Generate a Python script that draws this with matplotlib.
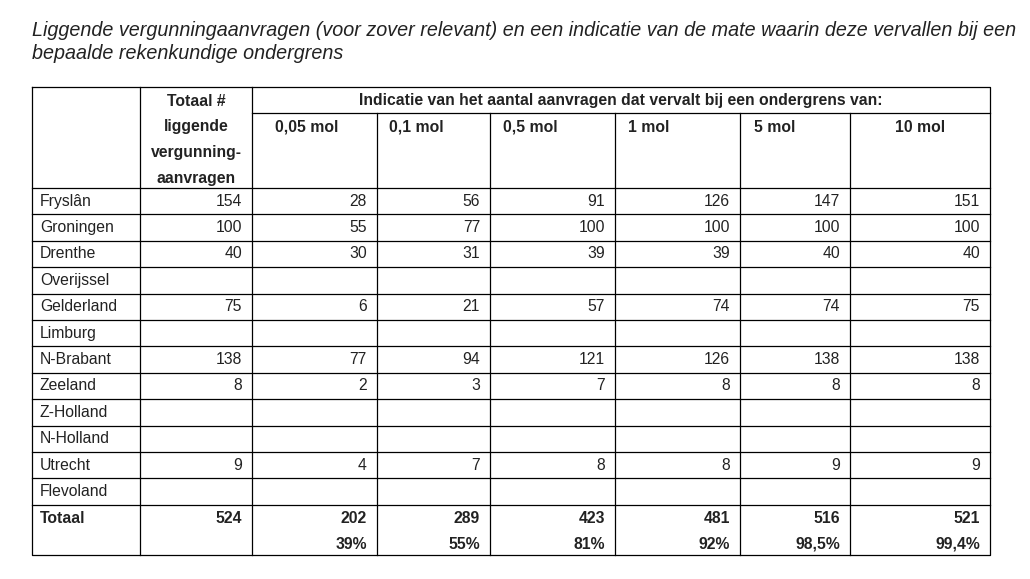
import matplotlib.pyplot as plt

provinces = ["Fryslân", "Groningen", "Drenthe", "Overijssel", "Gelderland", "Limburg",
             "N-Brabant", "Zeeland", "Z-Holland", "N-Holland", "Utrecht", "Flevoland"]
thresholds = ["0,05 mol", "0,1 mol", "0,5 mol", "1 mol", "5 mol", "10 mol"]
totals = [154, 100, 40, None, 75, None, 138, 8, None, None, 9, None]
per_threshold = [
    [28, 56, 91, 126, 147, 151],
    [55, 77, 100, 100, 100, 100],
    [30, 31, 39, 39, 40, 40],
    None,
    [6, 21, 57, 74, 74, 75],
    None,
    [77, 94, 121, 126, 138, 138],
    [2, 3, 7, 8, 8, 8],
    None,
    None,
    [4, 7, 8, 8, 9, 9],
    None,
]
grand_total = 524
threshold_totals = [202, 289, 423, 481, 516, 521]
threshold_pct = ["39%", "55%", "81%", "92%", "98,5%", "99,4%"]

title = ("Liggende vergunningaanvragen (voor zover relevant) en een indicatie van de mate waarin deze vervallen bij een\n"
         "bepaalde rekenkundige ondergrens")

fig = plt.figure(figsize=(10.3, 5.79), dpi=100)
ax = fig.add_axes([0, 0, 1, 1])
ax.set_xlim(0, 1030)
ax.set_ylim(579, 0)
ax.axis("off")

font = "Liberation Sans"
fs = 11.3
lw = 0.9
tc = "#222222"

ax.text(32, 42, title, fontsize=14.2, style="italic", family=font, va="center",
        linespacing=1.3, color=tc)

cols = [32, 140, 252, 377, 490, 615, 740, 850, 990]
top, head1, head_bot = 87, 113, 188
row_h = 26.4
rows_y = [head_bot + i * row_h for i in range(len(provinces) + 1)]
bottom = 555

# outer box and grid
ax.plot([cols[0], cols[-1], cols[-1], cols[0], cols[0]], [top, top, bottom, bottom, top], color="black", lw=lw)
for x in cols[1:-1]:
    y0 = top if x <= cols[2] else head1
    ax.plot([x, x], [y0, bottom], color="black", lw=lw)
ax.plot([cols[2], cols[-1]], [head1, head1], color="black", lw=lw)
for y in rows_y:
    ax.plot([cols[0], cols[-1]], [y, y], color="black", lw=lw)

# header
ax.text((cols[2] + cols[-1]) / 2, 101, "Indicatie van het aantal aanvragen dat vervalt bij een ondergrens van:",
        ha="center", va="center", fontsize=fs, weight="bold", family=font, color=tc)
for i, line in enumerate(["Totaal #", "liggende", "vergunning-", "aanvragen"]):
    ax.text((cols[1] + cols[2]) / 2, 101 + i * 25.7, line, ha="center", va="center",
            fontsize=fs, weight="bold", family=font, color=tc)
head_x = [275, 389, 503, 628, 754, 895]
for x, t in zip(head_x, thresholds):
    ax.text(x, 127, t, ha="left", va="center", fontsize=fs, weight="bold", family=font, color=tc)

# data rows
for i, name in enumerate(provinces):
    yc = rows_y[i] + row_h / 2
    ax.text(40, yc, name, ha="left", va="center", fontsize=fs, family=font, color=tc)
    if totals[i] is not None:
        ax.text(cols[2] - 10, yc, str(totals[i]), ha="right", va="center", fontsize=fs, family=font, color=tc)
    if per_threshold[i] is not None:
        for j, v in enumerate(per_threshold[i]):
            ax.text(cols[j + 3] - 10, yc, str(v), ha="right", va="center", fontsize=fs, family=font, color=tc)

# totals
yt = rows_y[-1] + 13.5
ax.text(40, yt, "Totaal", ha="left", va="center", fontsize=fs, weight="bold", family=font, color=tc)
ax.text(cols[2] - 10, yt, str(grand_total), ha="right", va="center", fontsize=fs, weight="bold", family=font, color=tc)
for j, (v, p) in enumerate(zip(threshold_totals, threshold_pct)):
    ax.text(cols[j + 3] - 10, yt, str(v), ha="right", va="center", fontsize=fs, weight="bold", family=font, color=tc)
    ax.text(cols[j + 3] - 10, yt + 26, p, ha="right", va="center", fontsize=fs, weight="bold", family=font, color=tc)

fig.savefig("out.png", dpi=100, facecolor="white")
